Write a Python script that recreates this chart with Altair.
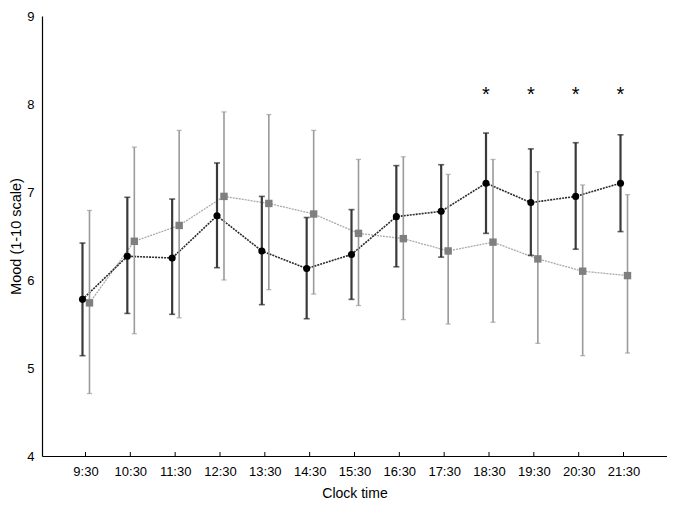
import altair as alt
import pandas as pd

times = ["9:30", "10:30", "11:30", "12:30", "13:30", "14:30", "15:30",
         "16:30", "17:30", "18:30", "19:30", "20:30", "21:30"]

black_mean = [5.78, 6.27, 6.25, 6.73, 6.33, 6.13, 6.29, 6.72, 6.78, 7.10, 6.88, 6.95, 7.10]
black_hi = [6.42, 6.94, 6.92, 7.33, 6.95, 6.71, 6.80, 7.30, 7.31, 7.67, 7.49, 7.56, 7.65]
black_lo = [5.14, 5.62, 5.61, 6.14, 5.72, 5.56, 5.78, 6.15, 6.26, 6.53, 6.28, 6.35, 6.55]

gray_mean = [5.74, 6.44, 6.62, 6.95, 6.87, 6.75, 6.53, 6.47, 6.33, 6.43, 6.24, 6.10, 6.05]
gray_hi = [6.79, 7.51, 7.70, 7.91, 7.88, 7.70, 7.37, 7.40, 7.20, 7.37, 7.23, 7.08, 6.97]
gray_lo = [4.71, 5.39, 5.57, 6.00, 5.89, 5.84, 5.71, 5.55, 5.50, 5.52, 5.28, 5.14, 5.17]

sig_times = ["18:30", "19:30", "20:30", "21:30"]
sig_level = [8.15, 8.15, 8.15, 8.15]

FONT = "Liberation Sans"

black = pd.DataFrame({"time": times, "mean": black_mean, "lo": black_lo, "hi": black_hi})
gray = pd.DataFrame({"time": times, "mean": gray_mean, "lo": gray_lo, "hi": gray_hi})
sig = pd.DataFrame({"time": sig_times, "y": sig_level, "label": ["*"] * len(sig_times)})
ticks = pd.DataFrame({"time": times, "y0": [4.0] * len(times), "y1": [4.045] * len(times)})

xenc = alt.X("time:O", sort=times, scale=alt.Scale(type="point", padding=0.97),
             axis=alt.Axis(title="Clock time", labelAngle=0, ticks=False,
                           domainColor="#000", domainWidth=1.2,
                           labelFont=FONT, labelFontSize=13, labelColor="#000",
                           labelPadding=9,
                           titleFont=FONT, titleFontSize=14, titleFontWeight="normal",
                           titleColor="#000", titlePadding=8))
yscale = alt.Scale(domain=[4, 9], nice=False, zero=False)
yenc = alt.Y("mean:Q", scale=yscale,
             axis=alt.Axis(title="Mood (1-10 scale)", values=[4, 5, 6, 7, 8, 9], format="d",
                           grid=False, ticks=False, domainColor="#000", domainWidth=1.2,
                           labelFont=FONT, labelFontSize=13, labelColor="#000",
                           labelPadding=8,
                           titleFont=FONT, titleFontSize=14.5, titleFontWeight="normal",
                           titleColor="#000", titleX=-26, titleBaseline="middle"))

BOFF = -3
GOFF = 4

g_line = alt.Chart(gray).mark_line(color="#aaaaaa", strokeWidth=1.3, strokeDash=[2, 1],
                                   xOffset=GOFF).encode(x=xenc, y=yenc)
g_err = alt.Chart(gray).mark_rule(color="#9a9a9a", strokeWidth=1.6, xOffset=GOFF).encode(
    x=alt.X("time:O", sort=times), y=alt.Y("lo:Q", scale=yscale), y2="hi:Q")
g_cap_hi = alt.Chart(gray).mark_tick(color="#9a9a9a", thickness=1.3, size=5, xOffset=GOFF).encode(
    x=alt.X("time:O", sort=times), y=alt.Y("hi:Q", scale=yscale))
g_cap_lo = alt.Chart(gray).mark_tick(color="#9a9a9a", thickness=1.3, size=5, xOffset=GOFF).encode(
    x=alt.X("time:O", sort=times), y=alt.Y("lo:Q", scale=yscale))
g_pts = alt.Chart(gray).mark_point(shape="square", filled=True, color="#7f7f7f", opacity=1,
                                   size=55, xOffset=GOFF).encode(
    x=alt.X("time:O", sort=times), y=alt.Y("mean:Q", scale=yscale))

b_line = alt.Chart(black).mark_line(color="#2a2a2a", strokeWidth=1.6, strokeDash=[2, 1],
                                    xOffset=BOFF).encode(
    x=alt.X("time:O", sort=times), y=alt.Y("mean:Q", scale=yscale))
b_err = alt.Chart(black).mark_rule(color="#3a3a3a", strokeWidth=2.2, xOffset=BOFF).encode(
    x=alt.X("time:O", sort=times), y=alt.Y("lo:Q", scale=yscale), y2="hi:Q")
b_cap_hi = alt.Chart(black).mark_tick(color="#222", thickness=1.6, size=6, xOffset=BOFF).encode(
    x=alt.X("time:O", sort=times), y=alt.Y("hi:Q", scale=yscale))
b_cap_lo = alt.Chart(black).mark_tick(color="#222", thickness=1.6, size=6, xOffset=BOFF).encode(
    x=alt.X("time:O", sort=times), y=alt.Y("lo:Q", scale=yscale))
b_pts = alt.Chart(black).mark_point(shape="circle", filled=True, color="#000", opacity=1,
                                    size=50, xOffset=BOFF).encode(
    x=alt.X("time:O", sort=times), y=alt.Y("mean:Q", scale=yscale))

stars = alt.Chart(sig).mark_text(font=FONT, fontSize=20, color="#000", baseline="middle",
                                 dy=4, xOffset=BOFF).encode(
    x=alt.X("time:O", sort=times), y=alt.Y("y:Q", scale=yscale), text="label:N")

xticks = alt.Chart(ticks).mark_rule(color="#000", strokeWidth=1).encode(
    x=alt.X("time:O", sort=times), y=alt.Y("y0:Q", scale=yscale), y2="y1:Q")

chart = alt.layer(
    g_line, b_line, g_err, g_cap_hi, g_cap_lo, b_err, b_cap_hi, b_cap_lo,
    g_pts, b_pts, stars, xticks
).properties(
    width=625, height=440,
    autosize=alt.AutoSizeParams(type="none"),
    padding={"left": 34, "top": 8, "right": 0, "bottom": 43},
    background="white",
).configure_view(stroke=None)

chart.save("out.html", embed_options={"renderer": "svg", "actions": False})
